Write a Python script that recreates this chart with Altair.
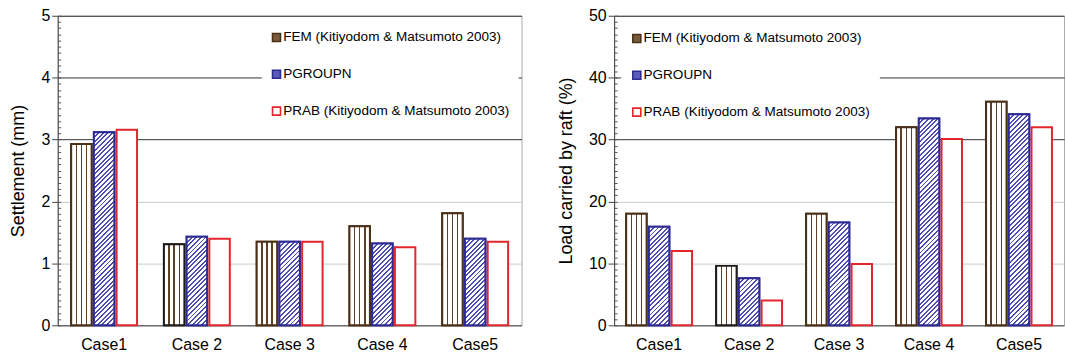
import math
import altair as alt
import pandas as pd

# ---------------- data ----------------
cases = ["Case1", "Case 2", "Case 3", "Case 4", "Case5"]
series = ["FEM (Kitiyodom & Matsumoto 2003)", "PGROUPN", "PRAB (Kitiyodom & Matsumoto 2003)"]

settle_fem = [2.93, 1.31, 1.35, 1.60, 1.81]
settle_pgroupn = [3.12, 1.43, 1.35, 1.32, 1.40]
settle_prab = [3.16, 1.40, 1.35, 1.26, 1.35]

load_fem = [18.0, 9.6, 18.0, 32.0, 36.1]
load_pgroupn = [15.9, 7.6, 16.6, 33.4, 34.1]
load_prab = [12.0, 4.0, 9.9, 30.1, 32.0]

settle_ticks = [0, 1, 2, 3, 4, 5]
load_ticks = [0, 10, 20, 30, 40, 50]
settle_minor = [round(i * 0.1, 1) for i in range(51)]
load_minor = list(range(0, 51))

# ---------------- style ----------------
FONT = "Liberation Sans"
FEM_STROKE = "#4b3018"
FEM_LINE = "#5e4026"
PG_STROKE = "#2d2b93"
PG_LINE = "#4d4db6"
PRAB_STROKE = "#e3262e"
H = 311
W_LEFT = 466
W_RIGHT = 452
GROUP = 66.2
OFF_PAD = 0.1
BAR_W = GROUP / (3 - OFF_PAD) * (1 - OFF_PAD)


def long_df(a, b, c):
    rows = []
    for i, cs in enumerate(cases):
        for s, vals in zip(series, (a, b, c)):
            rows.append({"case": cs, "series": s, "value": vals[i]})
    return pd.DataFrame(rows)


def stop(o, c):
    return {"offset": max(0.0, min(1.0, o)), "color": c}


def vstripes():
    stops = [stop(0, "white")]
    lw = 0.07
    for k in (1, 2, 3):
        c = k / 4
        stops += [stop(c - lw / 2, "white"), stop(c - lw / 2, FEM_LINE),
                  stop(c + lw / 2, FEM_LINE), stop(c + lw / 2, "white")]
    stops.append(stop(1, "white"))
    return {"gradient": "linear", "x1": 0, "y1": 0, "x2": 1, "y2": 0, "stops": stops}


def hatch(h, w, period=3.3, frac=0.42):
    r = h / w
    s = (1 + r) / (1 + r * r)
    L = (w + h) / math.sqrt(2)
    stops = [stop(0, "white")]
    k = 0
    while k * period < L:
        a = k * period / L
        b = (k * period + frac * period) / L
        stops += [stop(a, "white"), stop(a, PG_LINE), stop(b, PG_LINE), stop(b, "white")]
        k += 1
    stops.append(stop(1, "white"))
    return {"gradient": "linear", "x1": 0, "y1": 0, "x2": s, "y2": s * r, "stops": stops}


def panel(a, b, c, ymax, ticks, minor, dark_from, title, width, lx, ly, lpad):
    df = long_df(a, b, c)
    step = width / 5
    p_in = 1 - GROUP / step
    xscale = alt.Scale(domain=cases, paddingInner=p_in, paddingOuter=p_in / 2)
    offscale = alt.Scale(domain=series, paddingInner=OFF_PAD, paddingOuter=0)
    yscale = alt.Scale(domain=[0, ymax], nice=False, zero=True)

    x_axis = alt.X("case:N", scale=xscale, sort=None, title=None,
                   axis=alt.Axis(labelFontSize=16, labelAngle=0, ticks=False, labelPadding=11,
                                 domainColor="#444444", labelColor="black", labelFont=FONT))
    xoff = alt.XOffset("series:N", scale=offscale, sort=None)

    legend = alt.Legend(title=None, orient="none", legendX=lx, legendY=ly, fillColor="white",
                        padding=lpad, symbolType="square", symbolSize=64, symbolStrokeWidth=1.6,
                        labelFontSize=13.6, labelOffset=0, rowPadding=22, labelLimit=400,
                        labelColor="black", labelFont=FONT)

    base = alt.Chart(df).mark_bar(strokeWidth=2).encode(
        x=x_axis,
        xOffset=xoff,
        y=alt.Y("value:Q", scale=yscale, title=title,
                axis=alt.Axis(values=ticks, labelFontSize=16, tickSize=6, labelPadding=2,
                              titleFontSize=18, titleFontWeight="normal", titlePadding=13,
                              titleFont=FONT, labelFont=FONT, titleColor="black",
                              labelColor="black", grid=True, gridWidth=1,
                              gridColor={"condition": {"test": f"datum.value >= {dark_from}",
                                                       "value": "#333333"},
                                         "value": "#cccccc"},
                              domainColor="#444444", tickColor="#444444")),
        fill=alt.Fill("series:N", sort=None,
                      scale=alt.Scale(domain=series, range=["#7a5a3c", "#5a5ab8", "#ffffff"]),
                      legend=legend),
        stroke=alt.Stroke("series:N", sort=None,
                          scale=alt.Scale(domain=series, range=[FEM_STROKE, PG_STROKE, PRAB_STROKE]),
                          legend=legend),
    )

    fem = alt.Chart(df).transform_filter(alt.datum.series == series[0]).mark_bar(
        fill=vstripes(), strokeWidth=2).encode(
        x=x_axis,
        xOffset=xoff,
        y=alt.Y("value:Q", scale=yscale,
                axis=alt.Axis(orient="right", offset=-width, values=minor, tickSize=3,
                              labels=False, domain=False, grid=False, title=None,
                              tickColor="#555555")),
        stroke=alt.condition(alt.datum.case == "Case 2", alt.value("#1c1c1c"), alt.value(FEM_STROKE)),
    )

    layers = [base, fem]
    for i, cs in enumerate(cases):
        h = b[i] / ymax * H
        layers.append(
            alt.Chart(df).transform_filter(
                (alt.datum.series == series[1]) & (alt.datum.case == cs)
            ).mark_bar(fill=hatch(h, BAR_W), stroke=PG_STROKE, strokeWidth=2).encode(
                x=x_axis, xOffset=xoff,
                y=alt.Y("value:Q", scale=yscale, axis=None),
            )
        )

    return alt.layer(*layers).resolve_axis(y="independent").properties(width=width, height=H)


left = panel(settle_fem, settle_pgroupn, settle_prab, 5, settle_ticks, settle_minor, 3,
             "Settlement (mm)", W_LEFT, 205, 7, 8)
right = panel(load_fem, load_pgroupn, load_prab, 50, load_ticks, load_minor, 30,
              "Load carried by raft (%)", W_RIGHT, 7, 7, 9)

chart = alt.hconcat(left, right, spacing=34).resolve_scale(
    fill="independent", stroke="independent"
).resolve_legend(
    fill="independent", stroke="independent"
).configure(
    font=FONT, padding={"left": 9, "top": 6, "right": 0, "bottom": 0}
).configure_view(stroke="#aaaaaa")

chart.save("out.html", embed_options={"renderer": "svg", "actions": False})
